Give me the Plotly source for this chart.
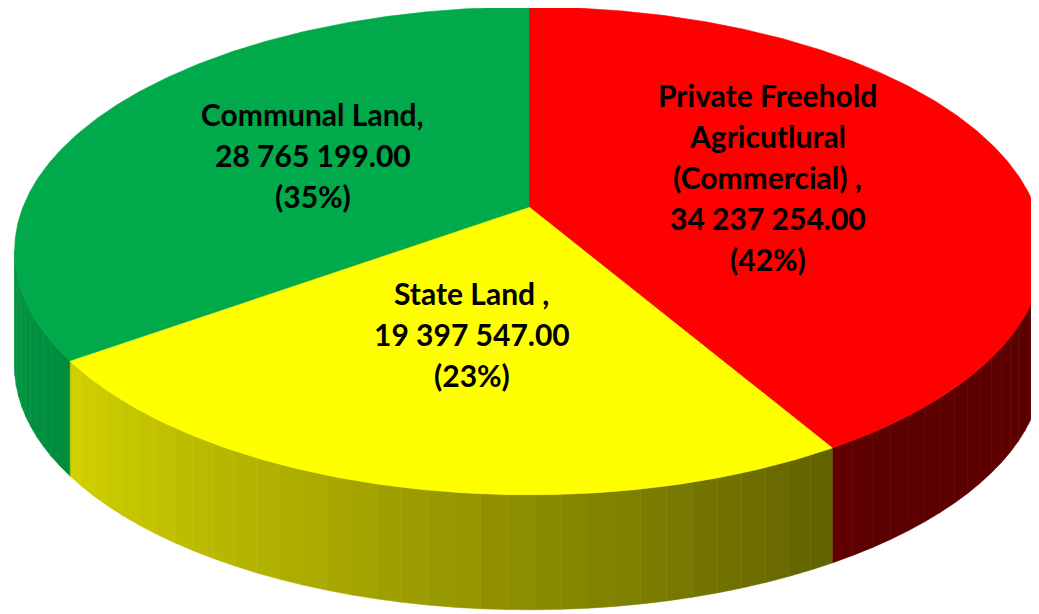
import math
import plotly.graph_objects as go

# ---- data ----
categories = ["Private Freehold Agricutlural (Commercial)", "State Land", "Communal Land"]
label_lines = [
    ["Private Freehold", "Agricutlural", "(Commercial) ,"],
    ["State Land ,"],
    ["Communal Land,"],
]
values = [34237254.00, 19397547.00, 28765199.00]
pct_labels = ["(42%)", "(23%)", "(35%)"]
top_colors = [(255, 0, 0), (255, 255, 0), (0, 170, 74)]

# ---- geometry / style (pixel space) ----
W, H = 1039, 614
CX, CY = 521, 199          # projected centre of the pie
A, B, C = 506, 236, -0.18  # perspective projection parameters
DEPTH = 115                # thickness of the pie wall
FONT = "Lato"
FSIZE = 30
LINE_H = 41


def proj(r, phi):
    u = r * math.sin(phi)
    v = -r * math.cos(phi)
    d = 1 + C * v
    return CX + A * u / d, CY + B * v / d


def shade(phi):
    u = math.sin(phi)
    k = 0.55 - 0.33 * u
    return max(0.36, min(0.9, k))


def rgb(c, k=1.0):
    return "rgb(%d,%d,%d)" % tuple(int(round(x * k)) for x in c)


total = sum(values)
fracs = [v / total for v in values]
starts = []
acc = 0.0
for f in fracs:
    starts.append(acc)
    acc += f

fig = go.Figure()

# visible front wall: where the outline is below the tangent points
vis_lo = math.acos(C)          # cos(phi) <= C
vis_hi = 2 * math.pi - vis_lo
STEP = math.radians(2.5)

for i, (s, f) in enumerate(zip(starts, fracs)):
    a0 = s * 2 * math.pi
    a1 = (s + f) * 2 * math.pi
    lo, hi = max(a0, vis_lo), min(a1, vis_hi)
    if hi <= lo:
        continue
    n = max(1, int(math.ceil((hi - lo) / STEP)))
    for j in range(n):
        p0 = lo + (hi - lo) * j / n
        p1 = lo + (hi - lo) * (j + 1) / n
        sub = [p0 + (p1 - p0) * t / 6 for t in range(7)]
        top = [proj(1, p) for p in sub]
        xs = [x for x, _ in top] + [x for x, _ in reversed(top)]
        ys = [y for _, y in top] + [y + DEPTH for _, y in reversed(top)]
        col = rgb(top_colors[i], shade((p0 + p1) / 2))
        fig.add_trace(go.Scatter(
            x=xs + [xs[0]], y=ys + [ys[0]], mode="lines", fill="toself",
            fillcolor=col, line=dict(color=col, width=0.6),
            hoverinfo="skip", showlegend=False))

# top faces
for i, (s, f) in enumerate(zip(starts, fracs)):
    a0 = s * 2 * math.pi
    a1 = (s + f) * 2 * math.pi
    n = max(8, int((a1 - a0) / math.radians(0.5)))
    pts = [proj(0, 0)] + [proj(1, a0 + (a1 - a0) * t / n) for t in range(n + 1)]
    xs = [x for x, _ in pts] + [pts[0][0]]
    ys = [y for _, y in pts] + [pts[0][1]]
    col = rgb(top_colors[i])
    fig.add_trace(go.Scatter(
        x=xs, y=ys, mode="lines", fill="toself", fillcolor=col,
        line=dict(color=col, width=0.6), name=categories[i],
        hoverinfo="skip", showlegend=False))

# labels
annotations = []
for i, (s, f) in enumerate(zip(starts, fracs)):
    mid = (s + f / 2) * 2 * math.pi
    lx, ly = proj(0.5, mid)
    val = "{:,.2f}".format(values[i]).replace(",", " ")
    lines = label_lines[i] + [val, pct_labels[i]]
    n = len(lines)
    for k, t in enumerate(lines):
        annotations.append(dict(
            x=lx, y=ly + (k - (n - 1) / 2) * LINE_H, text="<b>%s</b>" % t,
            showarrow=False, xanchor="center", yanchor="middle",
            font=dict(family=FONT, size=FSIZE, color="black")))

fig.update_layout(
    width=W, height=H, margin=dict(l=0, r=0, t=0, b=0),
    paper_bgcolor="white", plot_bgcolor="white",
    xaxis=dict(range=[0, W], visible=False, fixedrange=True),
    yaxis=dict(range=[H, 0], visible=False, fixedrange=True),
    annotations=annotations, showlegend=False,
)

fig.write_html("out.html")
